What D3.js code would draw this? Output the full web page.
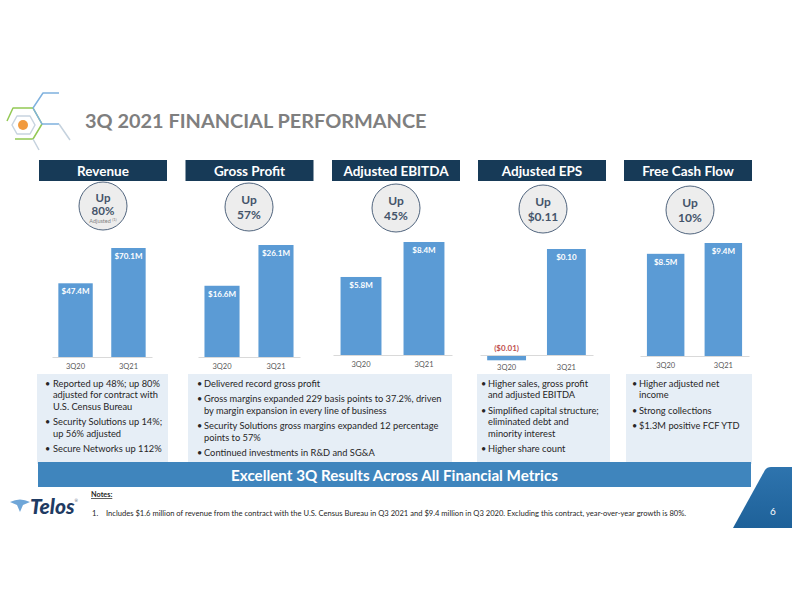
<!DOCTYPE html>
<html><head><meta charset="utf-8">
<script src="https://cdn.jsdelivr.net/npm/d3@7"></script>
<style>html,body{margin:0;padding:0;background:#fff;}svg{display:block;font-family:Lato,"Open Sans",sans-serif;}</style>
</head><body>
<svg id="chart" width="792" height="612"></svg>
<script>
// ---------- DATA ----------
const categories = ["3Q20", "3Q21"];
const panelTitles = ["Revenue", "Gross Profit", "Adjusted EBITDA", "Adjusted EPS", "Free Cash Flow"];
const revenue = [47.4, 70.1];
const grossProfit = [16.6, 26.1];
const adjustedEbitda = [5.8, 8.4];
const adjustedEps = [-0.01, 0.10];
const freeCashFlow = [8.5, 9.4];
const growthValues = ["80%", "57%", "45%", "$0.11", "10%"];
const revenueBullets = [["Reported up 48%; up 80%", "adjusted for contract with", "U.S. Census Bureau"], ["Security Solutions up 14%;", "up 56% adjusted"], ["Secure Networks up 112%"]];
const marginBullets = [["Delivered record gross profit"], ["Gross margins expanded 229 basis points to 37.2%, driven", "by margin expansion in every line of business"], ["Security Solutions gross margins expanded 12 percentage", "points to 57%"], ["Continued investments in R&D and SG&A"]];
const epsBullets = [["Higher sales, gross profit", "and adjusted EBITDA"], ["Simplified capital structure;", "eliminated debt and", "minority interest"], ["Higher share count"]];
const fcfBullets = [["Higher adjusted net", "income"], ["Strong collections"], ["$1.3M positive FCF YTD"]];
const bannerText = "Excellent 3Q Results Across All Financial Metrics";
const noteText = "Includes $1.6 million of revenue from the contract with the U.S. Census Bureau in Q3 2021 and $9.4 million in Q3 2020. Excluding this contract, year-over-year growth is 80%.";

// ---------- LAYOUT ----------
const svg = d3.select("#chart");
const NAVY = "#173A57", BAR = "#5B9BD5", CIRCLE_TXT = "#44546A";
const fmtM = v => "$" + v.toFixed(1) + "M";
const fmtEps = v => v < 0 ? "($" + Math.abs(v).toFixed(2) + ")" : "$" + v.toFixed(2);

const panels = [
  {values: revenue, fmt: fmtM, hx: 39, cx: 103, cy: 206, x0: 52, x1: 152, base: 357, top: 248, yMin: 0, sub: true},
  {values: grossProfit, fmt: fmtM, hx: 185.5, cx: 249, cy: 207, x0: 198, x1: 300, base: 357, top: 245, yMin: 0},
  {values: adjustedEbitda, fmt: fmtM, hx: 332, cx: 396, cy: 208, x0: 333, x1: 452, base: 355, top: 242, yMin: 0},
  {values: adjustedEps, fmt: fmtEps, hx: 478, cx: 543, cy: 209, x0: 480, x1: 593, base: 355, top: 249, yMin: -0.005},
  {values: freeCashFlow, fmt: fmtM, hx: 624, cx: 690, cy: 210, x0: 640, x1: 749, base: 356, top: 243, yMin: 0}
];

// ---------- LOGO HEXAGONS ----------
const logo = svg.append("g").attr("fill", "none").attr("stroke-width", 1.5).attr("stroke-linejoin", "round");
logo.append("path").attr("d", "M12,125 L17,116 L30,116 L35,125 L30,134 L17,134 Z").attr("stroke", "#C8D4E0");
logo.append("path").attr("d", "M7,121 L13,108 L33,108 L42,124 L33,139 L15,139").attr("stroke", "#93C954");
logo.append("path").attr("d", "M33,108 L43,93 L59,93 M33,108 L42,124 L59,124").attr("stroke", "#7FB1DE");
logo.append("path").attr("d", "M59,124 L70,140 M33,139 L39,150").attr("stroke", "#C5D2DE");
svg.append("circle").attr("cx", 23).attr("cy", 125).attr("r", 5).attr("fill", "#F19A3E");

svg.append("text").attr("x", 85).attr("y", 128).attr("font-size", 19.9).attr("font-weight", 700)
  .attr("fill", "#7F7F7F").text("3Q 2021 FINANCIAL PERFORMANCE");

// ---------- PANELS ----------
panels.forEach((p, i) => {
  const g = svg.append("g");
  // header
  g.append("rect").attr("x", p.hx).attr("y", 160).attr("width", 128).attr("height", 21).attr("fill", NAVY);
  g.append("text").attr("x", p.hx + 64).attr("y", 175.5).attr("text-anchor", "middle")
    .attr("font-size", 13.5).attr("font-weight", 700).attr("fill", "#fff").text(panelTitles[i]);
  // circle
  g.append("circle").attr("cx", p.cx).attr("cy", p.cy).attr("r", 24)
    .attr("fill", "#EDEDED").attr("stroke", "#3E5570").attr("stroke-width", 0.9);
  if (p.sub) {
    g.append("text").attr("x", p.cx).attr("y", p.cy - 4).attr("text-anchor", "middle").attr("font-size", 11.5)
      .attr("font-weight", 700).attr("fill", CIRCLE_TXT).text("Up");
    g.append("text").attr("x", p.cx).attr("y", p.cy + 9).attr("text-anchor", "middle").attr("font-size", 11.5)
      .attr("font-weight", 700).attr("fill", CIRCLE_TXT).text(growthValues[i]);
    const t = g.append("text").attr("x", p.cx).attr("y", p.cy + 16.5).attr("text-anchor", "middle")
      .attr("font-size", 5.5).attr("fill", "#7F7F7F");
    t.append("tspan").text("Adjusted ");
    t.append("tspan").attr("font-size", 4).attr("dy", -2).text("(1)");
  } else {
    g.append("text").attr("x", p.cx).attr("y", p.cy - 3).attr("text-anchor", "middle").attr("font-size", 12)
      .attr("font-weight", 700).attr("fill", CIRCLE_TXT).text("Up");
    g.append("text").attr("x", p.cx).attr("y", p.cy + 12).attr("text-anchor", "middle").attr("font-size", 12)
      .attr("font-weight", 700).attr("fill", CIRCLE_TXT).text(growthValues[i]);
  }
  // scales
  const x = d3.scaleBand().domain(categories).range([p.x0, p.x1]).paddingInner(0.35).paddingOuter(0.12);
  const maxV = d3.max(p.values);
  const yMinPx = p.base + (p.base - p.top) * (-p.yMin) / maxV;
  const y = d3.scaleLinear().domain([p.yMin, maxV]).range([yMinPx, p.top]).clamp(true);
  const data = categories.map((c, k) => ({c, v: p.values[k]}));
  g.selectAll("rect.bar").data(data).join("rect").attr("class", "bar")
    .attr("x", d => x(d.c)).attr("width", x.bandwidth())
    .attr("y", d => Math.min(y(d.v), y(0))).attr("height", d => Math.abs(y(d.v) - y(0)))
    .attr("fill", BAR);
  // baseline axis
  const axis = g.append("g").attr("transform", `translate(0,${y(0)})`)
    .call(d3.axisBottom(x).tickSize(0).tickPadding(p.yMin < 0 ? 9.5 : 7));
  axis.select(".domain").attr("stroke", "#D9D9D9").attr("stroke-width", 1);
  axis.selectAll("text").attr("font-size", 7.5).attr("fill", "#595959").attr("font-family", "Lato, sans-serif");
  // value labels
  g.selectAll("text.val").data(data).join("text").attr("class", "val")
    .attr("x", d => x(d.c) + x.bandwidth() / 2)
    .attr("y", d => d.v >= 0 ? y(d.v) + 11 : y(0) - 4)
    .attr("text-anchor", "middle").attr("font-size", 8).attr("font-weight", 700)
    .attr("fill", d => d.v >= 0 ? "#fff" : "#C0504D").text(d => p.fmt(d.v));
});

// ---------- BULLET BOXES ----------
const boxes = [
  {x: 37, w: 131, bx: 45, tx: 53, items: revenueBullets},
  {x: 188, w: 264, bx: 197, tx: 204, items: marginBullets},
  {x: 477, w: 133, bx: 481, tx: 488, items: epsBullets},
  {x: 626, w: 126, bx: 632, tx: 639, items: fcfBullets}
];
boxes.forEach(b => {
  svg.append("rect").attr("x", b.x).attr("y", 374).attr("width", b.w).attr("height", 90).attr("fill", "#E6EEF6");
  let yy = 386.5;
  b.items.forEach(lines => {
    svg.append("text").attr("x", b.bx).attr("y", yy).attr("font-size", 9).attr("fill", "#262626").text("•");
    lines.forEach(l => {
      svg.append("text").attr("x", b.tx).attr("y", yy).attr("font-size", 9.3).attr("fill", "#262626").text(l);
      yy += 11.5;
    });
    yy += 4;
  });
});

// ---------- BANNER ----------
svg.append("rect").attr("x", 38).attr("y", 462).attr("width", 713).attr("height", 25).attr("fill", "#3F85BD");
svg.append("text").attr("x", 394.5).attr("y", 480.5).attr("text-anchor", "middle").attr("font-size", 15.2)
  .attr("font-weight", 700).attr("fill", "#fff").text(bannerText);

// ---------- NOTES ----------
svg.append("text").attr("x", 91).attr("y", 497).attr("font-size", 7.3).attr("font-weight", 700)
  .attr("fill", "#262626").attr("text-decoration", "underline").text("Notes:");
svg.append("text").attr("x", 92).attr("y", 515.5).attr("font-size", 7.6).attr("fill", "#262626").text("1.");
svg.append("text").attr("x", 106).attr("y", 515.5).attr("font-size", 7.6).attr("fill", "#262626").text(noteText);

// ---------- TELOS LOGO ----------
svg.append("path").attr("d", "M10,502 Q20,497 30,502 L23,505 L20,512 L17,505 Z").attr("fill", "#6FA6D8");
const telos = svg.append("text").attr("x", 30).attr("y", 514).attr("font-size", 21).attr("font-weight", 900)
  .attr("font-style", "italic").attr("fill", "#1F3B63");
telos.append("tspan").text("Telos");
telos.append("tspan").attr("font-size", 4).attr("dy", -12).attr("font-weight", 400).text("®");

// ---------- PAGE NUMBER ----------
const defs = svg.append("defs");
const grad = defs.append("linearGradient").attr("id", "pg").attr("x1", 0).attr("y1", 0).attr("x2", 0).attr("y2", 1);
grad.append("stop").attr("offset", 0).attr("stop-color", "#2E74AE");
grad.append("stop").attr("offset", 1).attr("stop-color", "#1E6199");
svg.append("path").attr("d", "M733,528 L765,470 Q767,467 771,467 L792,467 L792,528 Z").attr("fill", "url(#pg)");
svg.append("text").attr("x", 773).attr("y", 515).attr("text-anchor", "middle").attr("font-size", 10)
  .attr("fill", "#fff").text("6");
</script>
</body></html>
